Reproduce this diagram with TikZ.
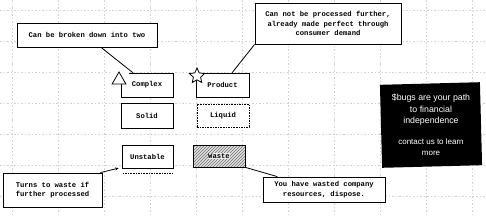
\documentclass[tikz,border=0pt]{standalone}
\usepackage{fontspec}
\setmainfont{Liberation Sans}
\newfontfamily\monofont{Liberation Mono}
\usetikzlibrary{shapes.geometric,patterns,calc,arrows.meta,shadows}
\begin{document}
\begin{tikzpicture}[x=1pt,y=-1pt,
  gridline/.style={black!18, line width=0.3pt, dash pattern=on 1.5pt off 2pt},
  box/.style={draw=black, line width=0.8pt, fill=white, inner sep=0pt,
    font=\monofont\bfseries\fontsize{7.2}{9.5}\selectfont},
  callout/.style={box, align=center,
    drop shadow={shadow xshift=0.9pt, shadow yshift=-0.9pt, fill=black, opacity=1}},
  conn/.style={draw=black, line width=0.8pt},
  adbox/.style={fill=black, inner sep=0pt},
  adtext/.style={text=white, align=center, inner sep=0pt,
    font=\fontsize{8.8}{11.5}\selectfont}
]
\useasboundingbox (0,0) rectangle (486,215);
\fill[white] (0,0) rectangle (486,215);
% faint background grid
\foreach \x in {12,58,...,486} \draw[gridline] (\x,0) -- (\x,215);
\foreach \y in {10,41,...,215} \draw[gridline] (0,\y) -- (486,\y);

% main boxes
\node[box, minimum width=52pt, minimum height=24pt] (complex) at (147,85) {Complex};
\node[box, minimum width=53pt, minimum height=24pt] (product) at (222.5,85) {Product};
\node[box, minimum width=52pt, minimum height=25pt] (solid) at (147,115.5) {Solid};
\node[box, dash pattern=on 1.6pt off 1pt, minimum width=52pt, minimum height=23pt] (liquid) at (223,115.5) {Liquid};
\node[box, minimum width=51pt, minimum height=23pt] (unstable) at (147.5,156.5) {Unstable};
\node[box, fill=black!12, minimum width=52pt, minimum height=22pt] (wastebg) at (219,156) {};
\node[box, fill=none, pattern=north east lines, pattern color=black!55, minimum width=52pt, minimum height=22pt] (waste) at (219,156) {};
\node[font=\monofont\bfseries\fontsize{7.2}{9.5}\selectfont, fill=black!8, inner sep=0.5pt] (wastelabel) at (waste.center) {Waste};
\draw[line width=0.8pt, dash pattern=on 1.6pt off 1pt] (unstable.south west) ++(1,5) coordinate (ul1) -- ($(unstable.south east)+(-1,5)$) coordinate (ul2);

% triangle and star markers
\fill[white] (111,70) rectangle (129,83.5);
\node[draw=black, line width=0.8pt, fill=white, regular polygon, regular polygon sides=3,
  minimum size=16pt, inner sep=0pt] (tri) at (119,80) {};
\node[draw=black, line width=0.8pt, fill=white, star, star points=5, star point ratio=2.1,
  minimum size=16pt, inner sep=0pt] (star) at (197,76) {};

% callouts
\node[callout, minimum width=140pt, minimum height=24pt] (c1) at (87,35) {Can be broken down into two};
\node[callout, minimum width=146pt, minimum height=41pt] (c2) at (328,23.5)
  {Can not be processed further,\\already made perfect through\\consumer demand};
\node[callout, minimum width=122pt, minimum height=25pt] (c3) at (324,189.5)
  {You have wasted company\\resources, dispose.};
\node[callout, minimum width=99pt, minimum height=34pt] (c4) at (52.5,190)
  {Turns to waste if\\further processed};

% connectors
\draw[conn] ($(c1.south west)!0.6!(c1.south east)$) -- ($(complex.north west)!0.23!(complex.north east)$);
\draw[conn] ($(product.north west)!0.68!(product.north east)$) -- (c2.south west);
\draw[conn] (waste.south east) -- ($(c3.north west)!0.12!(c3.north east)$);
\draw[conn, -{Stealth[length=3.5pt,width=3pt]}, shorten >=3pt] ($(c4.north east)+(-2,0)$) -- ($(unstable.south west)+(0,-1)$);

% advert box
\node[adbox, minimum width=100pt, minimum height=83pt, rotate=1.5] (ad) at (431,125) {};
\node[adtext] (adtxt) at (431,125)
  {\$bugs are your path\\to financial\\independence\\[9pt]{\color{white!78}\fontsize{8}{11}\selectfont contact us to learn}\\{\color{white!78}\fontsize{8}{11}\selectfont more}};
\end{tikzpicture}
\end{document}
